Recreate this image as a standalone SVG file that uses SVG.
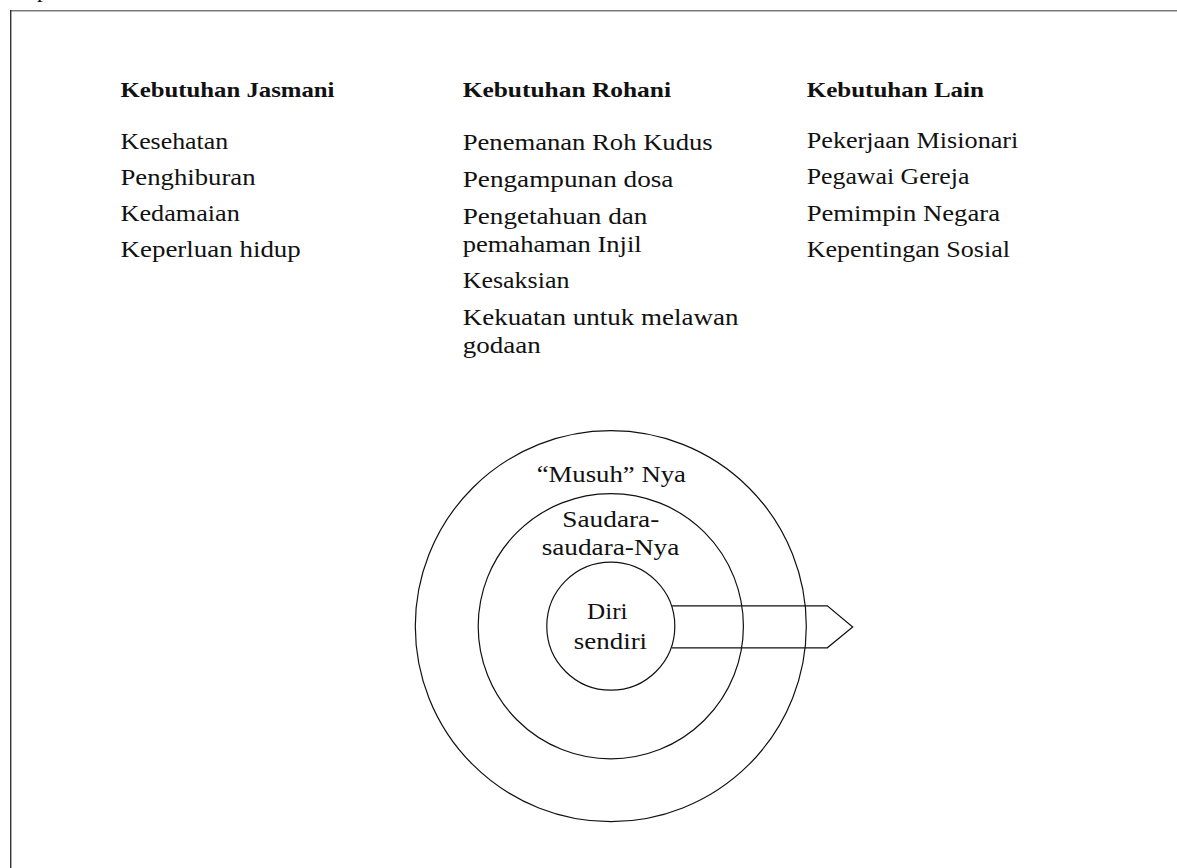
<svg xmlns="http://www.w3.org/2000/svg" width="1177" height="868" viewBox="0 0 1177 868">
  <style>
    text { font-family: "Liberation Serif", "Times New Roman", serif; fill: #111; }
    .head { font-size: 22px; font-weight: bold; }
    .item { font-size: 23px; }
    .ring { fill: none; stroke: #111; stroke-width: 1.2; }
    .frame-top { stroke: #7a7a7a; stroke-width: 1.4; }
    .frame-left { stroke: #333; stroke-width: 1.4; }
    .arrow { fill: none; stroke: #111; stroke-width: 1.2; stroke-linejoin: miter; }
  </style>

  <rect width="1177" height="868" fill="#fff"/>

  <!-- page frame, cut off at top-left -->
  <g id="frame">
    <text class="item" x="37" y="-3">p</text>
    <line class="frame-top" x1="10" y1="10.8" x2="1177" y2="10.8"/>
    <line class="frame-left" x1="10.7" y1="10" x2="10.7" y2="868"/>
  </g>

  <!-- column: physical needs -->
  <g id="col-jasmani">
    <text class="head" x="120.5" y="96.5" textLength="214" lengthAdjust="spacingAndGlyphs">Kebutuhan Jasmani</text>
    <text class="item" x="120.5" y="148.5" textLength="107.6" lengthAdjust="spacingAndGlyphs">Kesehatan</text>
    <text class="item" x="120.5" y="184.5" textLength="135" lengthAdjust="spacingAndGlyphs">Penghiburan</text>
    <text class="item" x="120.5" y="221" textLength="119.3" lengthAdjust="spacingAndGlyphs">Kedamaian</text>
    <text class="item" x="120.5" y="257.3" textLength="180.3" lengthAdjust="spacingAndGlyphs">Keperluan hidup</text>
  </g>

  <!-- column: spiritual needs -->
  <g id="col-rohani">
    <text class="head" x="462.7" y="96.5" textLength="208.3" lengthAdjust="spacingAndGlyphs">Kebutuhan Rohani</text>
    <text class="item" x="462.7" y="150" textLength="250" lengthAdjust="spacingAndGlyphs">Penemanan Roh Kudus</text>
    <text class="item" x="462.7" y="186.7" textLength="210.7" lengthAdjust="spacingAndGlyphs">Pengampunan dosa</text>
    <text class="item" x="462.7" y="223.7" textLength="184.7" lengthAdjust="spacingAndGlyphs">Pengetahuan dan</text>
    <text class="item" x="462.7" y="251.5" textLength="179" lengthAdjust="spacingAndGlyphs">pemahaman Injil</text>
    <text class="item" x="462.7" y="288.3" textLength="106.7" lengthAdjust="spacingAndGlyphs">Kesaksian</text>
    <text class="item" x="462.7" y="325" textLength="275.7" lengthAdjust="spacingAndGlyphs">Kekuatan untuk melawan</text>
    <text class="item" x="462.7" y="353" textLength="78" lengthAdjust="spacingAndGlyphs">godaan</text>
  </g>

  <!-- column: other needs -->
  <g id="col-lain">
    <text class="head" x="806.7" y="96.5" textLength="177.3" lengthAdjust="spacingAndGlyphs">Kebutuhan Lain</text>
    <text class="item" x="806.7" y="148" textLength="211.7" lengthAdjust="spacingAndGlyphs">Pekerjaan Misionari</text>
    <text class="item" x="806.7" y="184.3" textLength="162.7" lengthAdjust="spacingAndGlyphs">Pegawai Gereja</text>
    <text class="item" x="806.7" y="221" textLength="193.3" lengthAdjust="spacingAndGlyphs">Pemimpin Negara</text>
    <text class="item" x="806.7" y="256.8" textLength="203.3" lengthAdjust="spacingAndGlyphs">Kepentingan Sosial</text>
  </g>

  <!-- concentric rings -->
  <g id="ring-musuh">
    <circle class="ring" cx="610.8" cy="626.2" r="195.5"/>
    <text class="item" x="536.7" y="481.7" textLength="149.3" lengthAdjust="spacingAndGlyphs">“Musuh” Nya</text>
  </g>
  <g id="ring-saudara">
    <circle class="ring" cx="610.8" cy="626.2" r="132.6"/>
    <text class="item" x="562.3" y="527.3" textLength="97" lengthAdjust="spacingAndGlyphs">Saudara-</text>
    <text class="item" x="541.7" y="555" textLength="137.6" lengthAdjust="spacingAndGlyphs">saudara-Nya</text>
  </g>
  <g id="ring-diri">
    <circle class="ring" cx="610.8" cy="626.2" r="64"/>
    <text class="item" x="587" y="619" textLength="40.5" lengthAdjust="spacingAndGlyphs">Diri</text>
    <text class="item" x="573.8" y="648.5" textLength="73.3" lengthAdjust="spacingAndGlyphs">sendiri</text>
  </g>

  <!-- outward arrow from the centre -->
  <g id="connectors">
    <polyline class="arrow" points="671.8,605.8 827.3,605.8 852.7,627 827.3,647.8 671.8,647.8"/>
  </g>
</svg>
